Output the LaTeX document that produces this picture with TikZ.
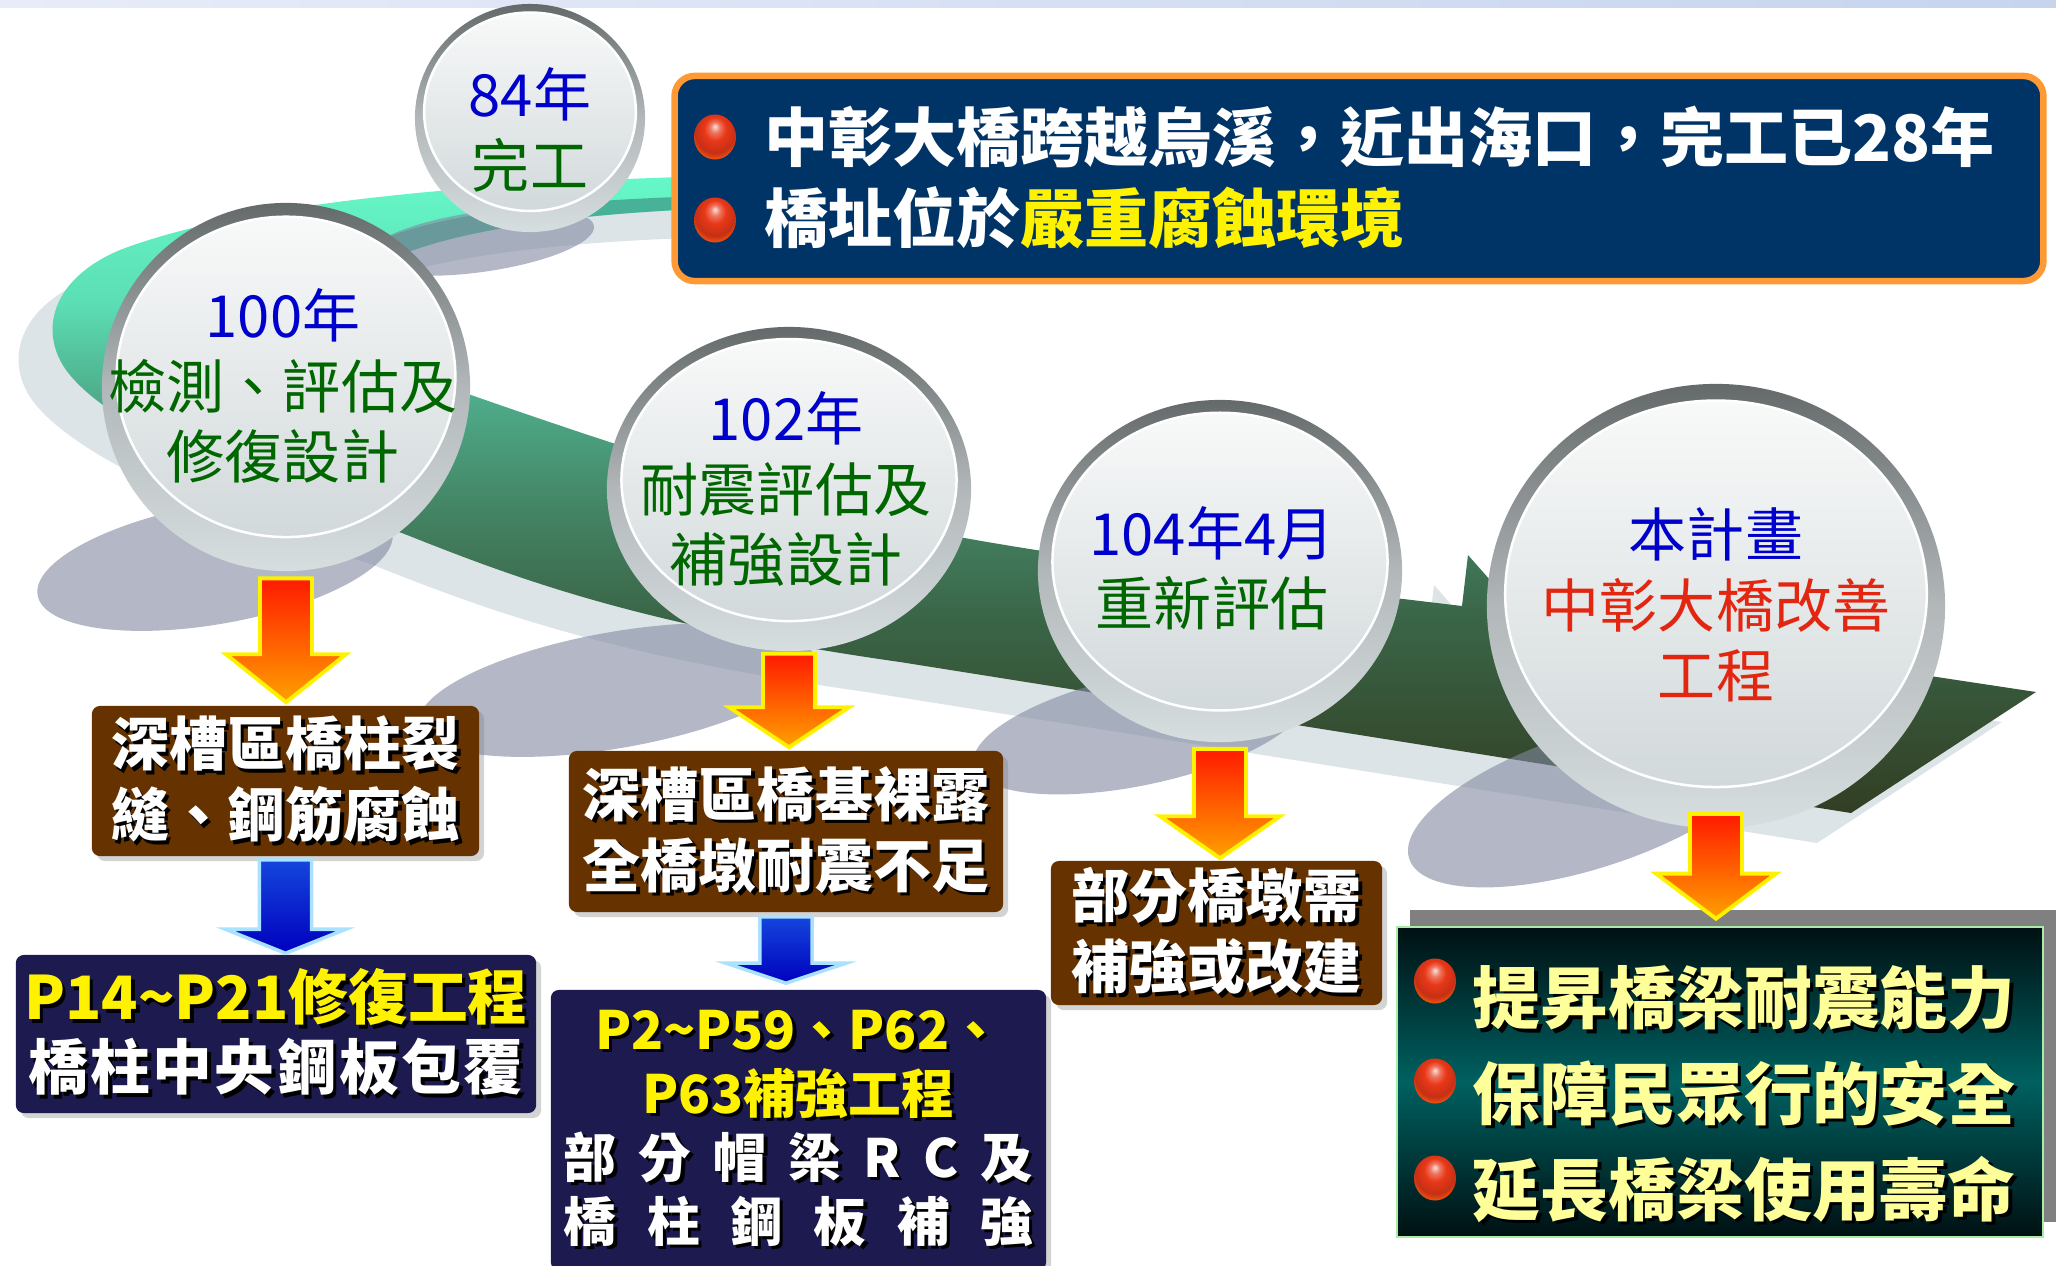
\documentclass[tikz,border=0pt]{standalone}
\usepackage{fontspec}
\setmainfont{Noto Sans CJK TC}
\usetikzlibrary{shapes.geometric,calc,shadows}

\definecolor{mist}{RGB}{232,236,248}
\definecolor{frost}{RGB}{198,212,238}
\definecolor{haze}{RGB}{220,228,232}
\definecolor{rbdark}{RGB}{50,62,35}
\definecolor{rbforest}{RGB}{58,100,70}
\definecolor{rbpine}{RGB}{68,135,103}
\definecolor{rbjade}{RGB}{78,172,138}
\definecolor{rbsea}{RGB}{92,222,180}
\definecolor{rbmint}{RGB}{102,248,200}
\definecolor{rbteal}{RGB}{72,178,152}
\definecolor{dusk}{RGB}{130,137,160}
\definecolor{rimtop}{RGB}{100,106,106}
\definecolor{rimmid}{RGB}{178,184,186}
\definecolor{rimbot}{RGB}{215,222,224}
\definecolor{facetop}{RGB}{248,249,249}
\definecolor{facebot}{RGB}{210,217,219}
\definecolor{yrblue}{RGB}{0,0,204}
\definecolor{leafgreen}{RGB}{0,102,0}
\definecolor{planred}{RGB}{226,38,16}
\definecolor{mud}{RGB}{102,51,0}
\definecolor{ink}{RGB}{28,26,78}
\definecolor{navy}{RGB}{0,51,102}
\definecolor{rim}{RGB}{255,153,51}
\definecolor{slate}{RGB}{128,128,128}
\definecolor{abyss}{RGB}{0,16,18}
\definecolor{sea}{RGB}{0,96,96}
\definecolor{mossline}{RGB}{170,235,170}
\definecolor{paleyellow}{RGB}{255,255,153}
\definecolor{ballred}{RGB}{232,56,24}
\definecolor{fire}{RGB}{255,26,0}
\definecolor{amber}{RGB}{255,160,0}
\definecolor{cobalt}{RGB}{20,70,220}
\definecolor{deepblue}{RGB}{0,0,190}
\definecolor{glow}{RGB}{170,225,255}

\pgfdeclareverticalshading{ribbonshade}{100bp}{color(0bp)=(rbdark); color(25bp)=(rbdark); color(40bp)=(rbforest); color(49.5bp)=(rbpine); color(57.5bp)=(rbjade); color(65bp)=(rbsea); color(75bp)=(rbmint); color(100bp)=(rbmint)}
\pgfdeclareradialshading{gloss}{\pgfpoint{0bp}{12bp}}{color(0bp)=(white!85!ballred); color(6bp)=(white!30!ballred); color(13bp)=(ballred); color(24bp)=(ballred!85!black); color(30bp)=(ballred!60!orange); color(36bp)=(orange!75!ballred); color(50bp)=(orange!75!ballred)}

\newcommand{\ribbonpath}{(760,175) .. controls (500,180) and (250,200) .. (120,250) .. controls (60,275) and (40,320) .. (60,360) .. controls (90,420) and (250,490) .. (402,533) .. controls (520,580) and (640,625) .. (900,662) -- (1851,813) -- (2036,692) -- (1520,614) -- (1468,555) -- (1462,606) .. controls (1200,575) and (1000,548) .. (900,525) .. controls (750,490) and (600,440) .. (471,395) .. controls (400,365) and (340,320) .. (360,285) .. controls (380,245) and (520,212) .. (760,207) -- cycle}
\newcommand{\yl}[1]{\textcolor{yellow}{#1}}
\newcommand{\sh}[1]{\leavevmode\rlap{\kern1pt\raisebox{-1pt}{\color{black}\def\yl##1{##1}#1}}#1}
\newcommand{\disc}[4]{%
  \node[rimdisc, minimum width=2*#3cm, minimum height=2*#4cm] (#1) at (#2) {};
  \fill[discface] ([yshift=0.055*#4cm]#1.center) ellipse [x radius=0.92*#3cm, y radius=0.87*#4cm];
}
\newcommand{\blockarrow}[4]{%
  \filldraw[#1] let \p1=(#2), \p2=(#3) in
    (\x1-0.26cm,\y1) -- (\x1+0.26cm,\y1) -- (\x1+0.26cm,\y2+#4) -- (\x1+0.6cm,\y2+#4) -- (\x1,\y2)
    -- (\x1-0.6cm,\y2+#4) -- (\x1-0.26cm,\y2+#4) -- cycle;
}

\tikzset{
  rimdisc/.style={ellipse, inner sep=0pt, top color=rimtop, bottom color=rimbot, middle color=rimmid},
  discface/.style={top color=facetop, bottom color=facebot, draw=white, line width=0.025cm},
  disctext/.style={align=center, inner sep=0pt, font=\fontsize{16.5}{20}\selectfont},
  mudbox/.style={rectangle, rounded corners=0.08cm, fill=mud, inner sep=0pt, text=white, align=center,
    font=\bfseries\fontsize{16.5}{20.2}\selectfont, drop shadow={shadow xshift=0.05cm, shadow yshift=-0.05cm, opacity=0.35}},
  inkbox/.style={mudbox, fill=ink},
  topbox/.style={rectangle, rounded corners=0.2cm, fill=navy, draw=rim, line width=0.065cm, inner sep=0pt},
  seabox/.style={rectangle, inner sep=0pt, top color=abyss, bottom color=abyss, middle color=sea, draw=mossline, line width=0.025cm},
  redball/.style={ellipse, inner sep=0pt, minimum width=0.42cm, minimum height=0.45cm, shading=gloss},
  headline/.style={anchor=west, inner sep=0pt, text=white, font=\bfseries\fontsize{18.2}{22}\selectfont},
  pledge/.style={anchor=west, inner sep=0pt, text=paleyellow, font=\bfseries\fontsize{19.3}{23}\selectfont},
  hotarrow/.style={draw=yellow, line width=1.1pt, top color=fire, bottom color=amber, line join=miter},
  coldarrow/.style={draw=glow, line width=1pt, top color=cobalt, bottom color=deepblue, line join=miter}
}

\begin{document}
\begin{tikzpicture}[x=0.01cm, y=-0.01cm]
\useasboundingbox (0,0) rectangle (2056,1266);
\shade[left color=mist, right color=frost] (0,0) rectangle (2056,7);

\fill[haze, shift={(-34,30)}] \ribbonpath;
\shade[shading=ribbonshade] \ribbonpath;
\fill[rbteal] (340,270) .. controls (370,222) and (520,198) .. (760,195) -- (760,207) .. controls (520,212) and (380,245) .. (360,285) -- cycle;

\fill[dusk, opacity=.6, rotate around={8:(480,242)}] (480,242) ellipse [x radius=1.15cm, y radius=0.3cm];
\fill[dusk, opacity=.6, rotate around={10:(215,564)}] (215,564) ellipse [x radius=1.8cm, y radius=0.6cm];
\fill[dusk, opacity=.6, rotate around={10:(616,690)}] (616,690) ellipse [x radius=2cm, y radius=0.58cm];
\fill[dusk, opacity=.6, rotate around={12:(1140,730)}] (1140,730) ellipse [x radius=1.7cm, y radius=0.55cm];
\fill[dusk, opacity=.6, rotate around={18:(1590,800)}] (1590,800) ellipse [x radius=1.9cm, y radius=0.68cm];

\disc{c84}{530,118}{1.15}{1.14}
\disc{c100}{286,387}{1.84}{1.84}
\disc{c102}{789,489}{1.82}{1.62}
\disc{c104}{1220,571}{1.82}{1.71}
\disc{cplan}{1716,606}{2.29}{2.22}

\node[disctext] (l84) at (530,130) {\textcolor{yrblue}{84年}\\\textcolor{leafgreen}{完工}};
\node[disctext] (l100) at (283,386) {\textcolor{yrblue}{100年}\\\textcolor{leafgreen}{檢測、評估及}\\\textcolor{leafgreen}{修復設計}};
\node[disctext] (l102) at (786,489) {\textcolor{yrblue}{102年}\\\textcolor{leafgreen}{耐震評估及}\\\textcolor{leafgreen}{補強設計}};
\node[disctext] (l104) at (1212,568) {\textcolor{yrblue}{104年4月}\\\textcolor{leafgreen}{重新評估}};
\node[disctext] (lplan) at (1716,605) {\textcolor{yrblue}{本計畫}\\\textcolor{planred}{中彰大橋改善}\\\textcolor{planred}{工程}};

\node[mudbox, minimum width=3.87cm, minimum height=1.5cm] (boxA) at (285.5,781) {\sh{深槽區橋柱裂}\\\sh{縫、鋼筋腐蝕}};
\node[mudbox, minimum width=4.34cm, minimum height=1.61cm] (boxB) at (786,831.5) {\sh{深槽區橋基裸露}\\\sh{全橋墩耐震不足}};
\node[mudbox, minimum width=3.31cm, minimum height=1.44cm] (boxC) at (1216.5,933) {\sh{部分橋墩需}\\\sh{補強或改建}};
\node[inkbox, minimum width=5.2cm, minimum height=1.58cm, font=\bfseries\fontsize{17}{20}\selectfont] (boxD) at (276,1034)
  {\sh{\yl{P14\textasciitilde P21修復工程}}\\\sh{\makebox[4.95cm][s]{橋\hfill 柱\hfill 中\hfill 央\hfill 鋼\hfill 板\hfill 包\hfill 覆}}};
\node[inkbox, minimum width=4.95cm, minimum height=2.8cm, font=\bfseries\fontsize{15}{18.2}\selectfont] (boxE) at (798.5,1130)
  {\sh{\yl{P2\textasciitilde P59、P62、}}\\\sh{\yl{P63補強工程}}\\\sh{\makebox[4.69cm][s]{部\hfill 分\hfill 帽\hfill 梁\hfill R\hfill C\hfill 及}}\\\sh{\makebox[4.69cm][s]{橋\hfill 柱\hfill 鋼\hfill 板\hfill 補\hfill 強}}};

\fill[slate] (1410,910) rectangle (2056,1222);
\node[seabox, minimum width=6.46cm, minimum height=3.1cm] (boxF) at (1720,1082) {};
\node[redball] (fb1) at (1435,981) {};
\node[redball] (fb2) at (1435,1081) {};
\node[redball] (fb3) at (1435,1178) {};
\node[pledge] (f1) at (1472,1000) {\sh{提昇橋梁耐震能力}};
\node[pledge] (f2) at (1472,1095) {\sh{保障民眾行的安全}};
\node[pledge] (f3) at (1472,1191) {\sh{延長橋梁使用壽命}};

\node[topbox, minimum width=13.68cm, minimum height=2.05cm] (topbox) at (1359,178.5) {};
\node[redball] (gb1) at (715,137) {};
\node[redball] (gb2) at (715,220) {};
\node[headline] (g1) at (764,137) {中彰大橋跨越烏溪，近出海口，完工已28年};
\node[headline] (g2) at (764,218) {橋址位於\textcolor{yellow}{嚴重腐蝕環境}};

\blockarrow{hotarrow}{[yshift=-0.065cm]c100.south}{[yshift=0.03cm]boxA.north}{0.48cm}
\blockarrow{hotarrow}{[yshift=-0.02cm]c102.south}{[yshift=0.03cm]boxB.north}{0.4cm}
\blockarrow{hotarrow}{[yshift=-0.06cm]c104.south}{[yshift=0.02cm]boxC.north}{0.42cm}
\blockarrow{hotarrow}{[yshift=0.15cm]cplan.south}{[yshift=0.07cm]boxF.north}{0.45cm}
\blockarrow{coldarrow}{[yshift=-0.03cm]boxA.south}{[yshift=0.01cm]boxD.north}{0.24cm}
\blockarrow{coldarrow}{[yshift=-0.04cm]boxB.south}{[yshift=0.06cm]boxE.north}{0.2cm}
\end{tikzpicture}
\end{document}
